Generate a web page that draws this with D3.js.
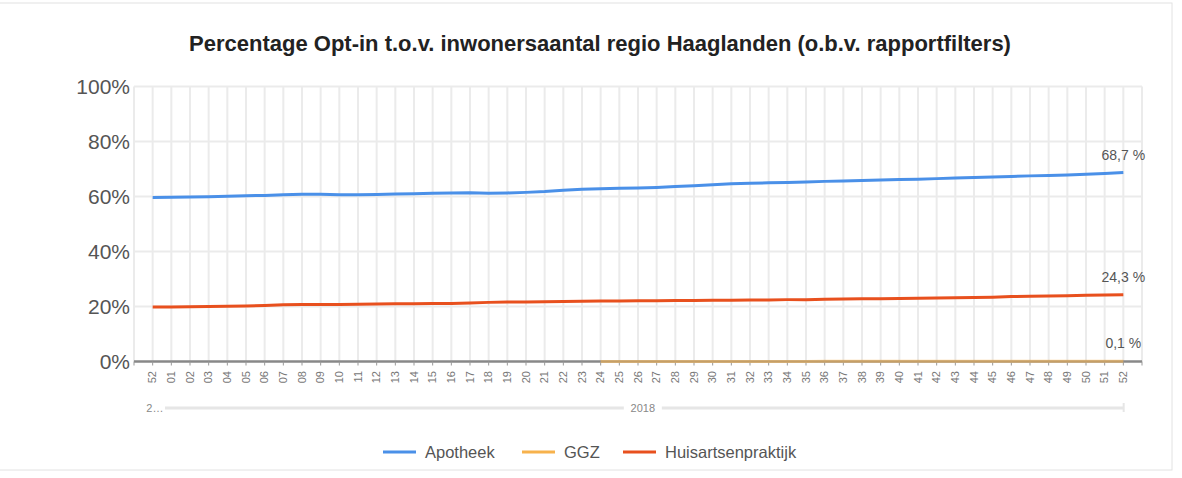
<!DOCTYPE html>
<html>
<head>
<meta charset="utf-8">
<script src="https://cdn.jsdelivr.net/npm/d3@7"></script>
<style>
  body { margin: 0; background: #fff; }
  text { font-family: Arial, "Liberation Sans", sans-serif; }
</style>
</head>
<body>
<div class="container"></div>
<script>
let width = 1182;
let height = 478;

// weeks: 52 of 2017, then 01..52 of 2018
const weeks = ['52'].concat(d3.range(1, 53).map(w => (w < 10 ? '0' : '') + w));
const years = ['2017'].concat(d3.range(52).map(() => '2018'));

const apotheek = [59.6, 59.7, 59.8, 59.9, 60.1, 60.3, 60.4, 60.6, 60.8, 60.8, 60.6, 60.6, 60.7, 60.9,
    61.0, 61.2, 61.3, 61.4, 61.2, 61.3, 61.5, 61.8, 62.3, 62.6, 62.8, 63.0, 63.1, 63.3, 63.6, 63.9,
    64.3, 64.6, 64.8, 65.0, 65.1, 65.3, 65.5, 65.6, 65.8, 66.0, 66.2, 66.3, 66.5, 66.7, 66.9, 67.1,
    67.3, 67.5, 67.6, 67.8, 68.1, 68.4, 68.7];
const ggz = [null, null, null, null, null, null, null, null, null, null, null, null, null, null,
    null, null, null, null, null, null, null, null, null, null, 0.0, 0.0, 0.0, 0.0, 0.0, 0.0,
    0.0, 0.0, 0.0, 0.0, 0.0, 0.0, 0.1, 0.1, 0.1, 0.1, 0.1, 0.1, 0.1, 0.1, 0.1, 0.1,
    0.1, 0.1, 0.1, 0.1, 0.1, 0.1, 0.1];
const huisarts = [19.8, 19.8, 19.9, 20.0, 20.1, 20.2, 20.4, 20.6, 20.7, 20.7, 20.7, 20.8, 20.9, 21.0,
    21.0, 21.1, 21.1, 21.3, 21.5, 21.6, 21.6, 21.7, 21.8, 21.9, 22.0, 22.0, 22.1, 22.1, 22.2, 22.2,
    22.3, 22.3, 22.4, 22.4, 22.5, 22.5, 22.6, 22.7, 22.8, 22.8, 22.9, 23.0, 23.1, 23.2, 23.3, 23.4,
    23.6, 23.7, 23.8, 23.9, 24.1, 24.2, 24.3];

const yTicks = [0, 20, 40, 60, 80, 100];

const series = [
    {name: 'Apotheek', values: apotheek, color: '#4a90e8'},
    {name: 'GGZ', values: ggz, color: '#f7b24c'},
    {name: 'Huisartsenpraktijk', values: huisarts, color: '#e8501e'}
];

const svg = d3.select('.container')
    .append('svg')
    .attr('width', width)
    .attr('height', height);

// frame
svg.append('rect')
    .attr('x', -2).attr('y', 3)
    .attr('width', 1174).attr('height', 467)
    .attr('fill', 'none')
    .attr('stroke', '#e2e2e2');

let plotLeft = 134, plotRight = 1142, plotTop = 86.5, plotBottom = 361.5;

let x = d3.scalePoint()
    .domain(d3.range(weeks.length))
    .range([plotLeft, plotRight])
    .padding(1);

let y = d3.scaleLinear()
    .domain([0, 100])
    .range([plotBottom, plotTop]);

//Title
svg.append('text')
    .attr('x', 600)
    .attr('y', 51)
    .attr('text-anchor', 'middle')
    .style('font-size', '22px')
    .style('font-weight', 'bold')
    .attr('fill', '#222')
    .text('Percentage Opt-in t.o.v. inwonersaantal regio Haaglanden (o.b.v. rapportfilters)');

//Grid
let step = x.step();
let vGrid = d3.range(weeks.length + 2).map(i => plotLeft + i * step);
svg.append('g').selectAll('line')
    .data(vGrid)
    .enter().append('line')
    .attr('x1', d => d).attr('x2', d => d)
    .attr('y1', plotTop).attr('y2', plotBottom)
    .attr('stroke', '#ebebeb')
    .attr('stroke-width', 2);

svg.append('g').selectAll('line')
    .data(yTicks.filter(t => t > 0))
    .enter().append('line')
    .attr('x1', plotLeft).attr('x2', plotRight)
    .attr('y1', d => y(d)).attr('y2', d => y(d))
    .attr('stroke', '#ebebeb')
    .attr('stroke-width', 2);

//Y labels
svg.append('g').selectAll('text')
    .data(yTicks)
    .enter().append('text')
    .attr('x', 130)
    .attr('y', d => y(d))
    .attr('dy', '0.36em')
    .attr('text-anchor', 'end')
    .style('font-size', '21px')
    .attr('fill', '#555')
    .text(d => d + '%');

//Baseline + ticks
svg.append('line')
    .attr('x1', plotLeft).attr('x2', plotRight)
    .attr('y1', plotBottom).attr('y2', plotBottom)
    .attr('stroke', '#888')
    .attr('stroke-width', 2.5);

svg.append('g').selectAll('line')
    .data(vGrid)
    .enter().append('line')
    .attr('x1', d => d).attr('x2', d => d)
    .attr('y1', plotBottom).attr('y2', plotBottom + 4)
    .attr('stroke', '#999')
    .attr('stroke-width', 1);

//Week labels
svg.append('g').selectAll('text')
    .data(weeks)
    .enter().append('text')
    .attr('transform', (d, i) => 'translate(' + (x(i) + 3.5) + ',371) rotate(-90)')
    .attr('text-anchor', 'end')
    .style('font-size', '11px')
    .attr('fill', '#777')
    .text(d => d);

//Year groups
let groups = d3.groups(d3.range(years.length), i => years[i]);
groups.forEach(([yr, idx]) => {
    let x0 = x(idx[0]) - step / 2, x1 = x(idx[idx.length - 1]) + step / 2;
    if (idx.length === 1) {
        svg.append('text')
            .attr('x', x0 + 3).attr('y', 412)
            .style('font-size', '11px')
            .attr('fill', '#888')
            .text('2\u2026');
        return;
    }
    svg.append('line')
        .attr('x1', x0 + 3).attr('x2', x1 - 9)
        .attr('y1', 408).attr('y2', 408)
        .attr('stroke', '#e6e6e6')
        .attr('stroke-width', 3);
    svg.append('line')
        .attr('x1', x1 - 9).attr('x2', x1 - 9)
        .attr('y1', 403).attr('y2', 412)
        .attr('stroke', '#e6e6e6')
        .attr('stroke-width', 2);
    let cx = (x0 + x1 - 9) / 2;
    svg.append('rect')
        .attr('x', cx - 19).attr('y', 401)
        .attr('width', 38).attr('height', 14)
        .attr('fill', '#fff');
    svg.append('text')
        .attr('x', cx).attr('y', 412)
        .attr('text-anchor', 'middle')
        .style('font-size', '11px')
        .attr('fill', '#888')
        .text(yr);
});

//Lines
let line = d3.line()
    .defined(d => d !== null)
    .x((d, i) => x(i))
    .y(d => y(d));

series.forEach(s => {
    svg.append('path')
        .datum(s.values)
        .attr('d', line)
        .attr('fill', 'none')
        .attr('stroke', s.color)
        .attr('stroke-width', 3)
        .attr('stroke-opacity', s.name === 'GGZ' ? 0.55 : 1);

    let last = s.values.length - 1;
    svg.append('text')
        .attr('x', x(last))
        .attr('y', y(s.values[last]) - 13)
        .attr('text-anchor', 'middle')
        .style('font-size', '14px')
        .attr('fill', '#555')
        .text(d3.format('.1f')(s.values[last]).replace('.', ',') + ' %');
});

//Legend
let legendX = [383, 522, 623];
series.forEach((s, i) => {
    let g = svg.append('g').attr('transform', 'translate(' + legendX[i] + ',452)');
    g.append('line')
        .attr('x1', 0).attr('x2', 33)
        .attr('stroke', s.color)
        .attr('stroke-width', 3);
    g.append('text')
        .attr('x', 42)
        .attr('dy', '0.36em')
        .style('font-size', '16.5px')
        .attr('fill', '#555')
        .text(s.name);
});
</script>
</body>
</html>
